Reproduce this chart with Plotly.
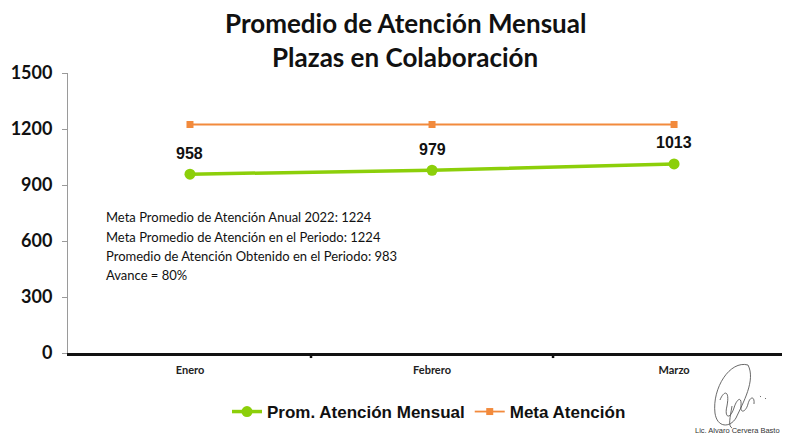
import plotly.graph_objects as go

meses = ["Enero", "Febrero", "Marzo"]
prom_atencion = [958, 979, 1013]
meta_atencion = [1224, 1224, 1224]
y_ticks = [0, 300, 600, 900, 1200, 1500]

titulo = ["Promedio de Atención Mensual", "Plazas en Colaboración"]
info_lines = [
    "Meta Promedio de Atención Anual 2022: 1224",
    "Meta Promedio de Atención en el Periodo: 1224",
    "Promedio de Atención Obtenido en el Periodo: 983",
    "Avance = 80%",
]
firma = "Lic. Alvaro Cervera Basto"

# The page body adds an 8px offset; the figure is sized to fill the window.
W, H = 782, 429
L, T, B = 60, 65, 84
PH = H - T - B  # 280
PW = W - L      # 722

def px(xf):
    return (xf - L) / PW

def py(yf):
    return (H - B - yf) / PH

fig = go.Figure()
fig.add_trace(go.Scatter(
    x=meses, y=prom_atencion, name="<b>Prom. Atención Mensual</b>",
    mode="lines+markers",
    line=dict(color="#8ccf0a", width=3.5),
    marker=dict(symbol="circle", size=11, color="#8ccf0a"),
))
fig.add_trace(go.Scatter(
    x=meses, y=meta_atencion, name="<b>Meta Atención</b>",
    mode="lines+markers",
    line=dict(color="#f28a3c", width=1.8),
    marker=dict(symbol="square", size=7, color="#f28a3c"),
))

for m, v in zip(meses, prom_atencion):
    fig.add_annotation(
        x=m, y=v, text=f"<b>{v}</b>", showarrow=False, yshift=21,
        font=dict(family="Liberation Sans, Arial", size=16, color="#111111"),
    )

fig.update_layout(
    width=W, height=H,
    margin=dict(l=L, r=0, t=T, b=B),
    paper_bgcolor="white", plot_bgcolor="white",
    showlegend=True,
    legend=dict(
        orientation="h", x=0.5, xanchor="center", y=py(404), yanchor="middle",
        font=dict(family="Liberation Sans, Arial", size=17, color="#111111"),
        itemwidth=30, traceorder="normal",
    ),
    xaxis=dict(
        type="category", range=[-0.504, 2.479],
        showline=True, linecolor="#111111", linewidth=3,
        ticks="", showgrid=False, zeroline=False,
        tickvals=meses, ticktext=[f"<b>{m}</b>" for m in meses],
        tickfont=dict(family="Lato, Open Sans", size=11, color="#222222"),
        ticklabelstandoff=5,
    ),
    yaxis=dict(
        range=[0, 1500], tickvals=y_ticks,
        ticktext=[f"<b>{v}</b>" for v in y_ticks],
        showline=True, linecolor="#9a9a9a", linewidth=1,
        ticks="outside", tickcolor="#9a9a9a", ticklen=5,
        showgrid=False, zeroline=False,
        tickfont=dict(family="Lato, Open Sans", size=18, color="#111111"),
        ticklabelstandoff=6,
    ),
)

# title lines
for line, yc in zip(titulo, [15, 49]):
    fig.add_annotation(
        text=f"<b>{line}</b>", xref="paper", yref="paper",
        x=px(397), y=py(yc), xanchor="center", yanchor="middle", showarrow=False,
        font=dict(family="Lato, Open Sans", size=26, color="#111111"),
    )

# tick marks at category boundaries on x axis
for b in [0.5, 1.5]:
    fig.add_shape(type="line", xref="x", yref="paper", x0=b, x1=b, y0=0, y1=-0.018,
                  line=dict(color="#111111", width=2.5))

for line, yc in zip(info_lines, [209, 229, 248, 267]):
    fig.add_annotation(
        text=line, xref="paper", yref="paper",
        x=px(96), y=py(yc), xanchor="left", yanchor="middle",
        align="left", showarrow=False,
        font=dict(family="Lato, Open Sans", size=13, color="#111111"),
    )

fig.add_annotation(
    text=firma, xref="paper", yref="paper",
    x=px(729), y=py(422), xanchor="center", yanchor="middle",
    showarrow=False,
    font=dict(family="Liberation Sans Narrow, Liberation Sans", size=7.5, color="#333333"),
)

# rough signature scribble (pixel path converted to paper coordinates)
sig = ("M 740 357 C 722 352 704 380 707 405 C 709 420 722 420 728 410 "
       "C 735 395 748 372 740 357 "
       "M 712 392 C 716 382 722 382 719 398 C 716 410 722 412 726 400 "
       "C 729 390 734 388 733 398 C 732 406 738 404 740 396 "
       "C 742 388 747 388 746 396 "
       "M 724 398 C 722 410 720 418 724 420 "
       "M 752 388 L 753 389 M 757 390 L 758 391")
conv = []
idx = 0
for tok in sig.split():
    if tok.isalpha():
        conv.append(tok)
    else:
        v = float(tok)
        conv.append(f"{px(v):.4f}" if idx % 2 == 0 else f"{py(v):.4f}")
        idx += 1
fig.add_shape(type="path", xref="paper", yref="paper", path=" ".join(conv),
              line=dict(color="#444444", width=0.8))

fig.write_html("out.html")
